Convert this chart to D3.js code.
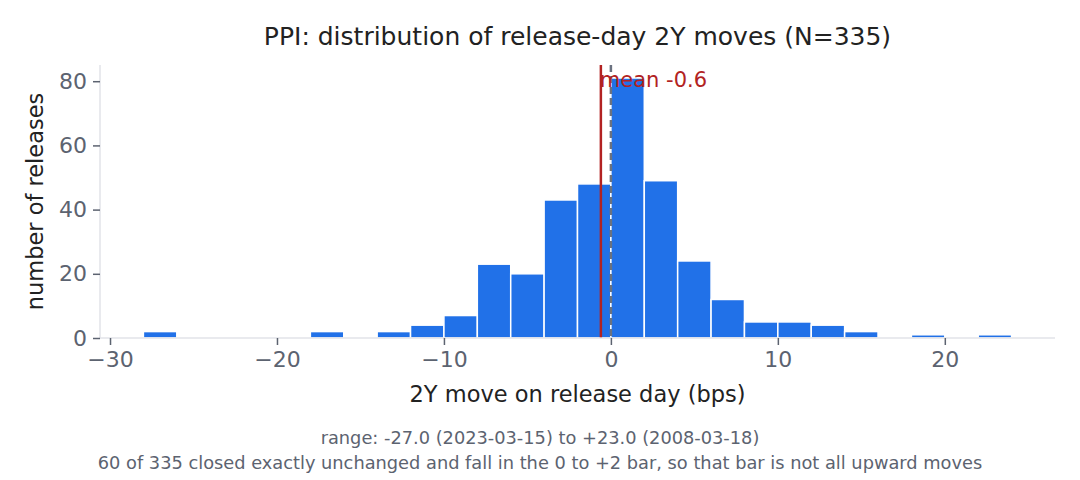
<!DOCTYPE html>
<html>
<head>
<meta charset="utf-8">
<script src="https://cdn.jsdelivr.net/npm/d3@7"></script>
<style>
  body { margin: 0; background: #fff; }
  text { font-family: "DejaVu Sans", sans-serif; }
</style>
</head>
<body>
<svg id="chart" width="1080" height="480"></svg>
<script>
// histogram bins (bps), width 2
var binStarts = [-28, -18, -14, -12, -10, -8, -6, -4, -2, 0, 2, 4, 6, 8, 10, 12, 14, 18, 22];
var binCounts = [2, 2, 2, 4, 7, 23, 20, 43, 48, 81, 49, 24, 12, 5, 5, 4, 2, 1, 1];
var binWidth = 2;
var meanMove = -0.6;
var xTicks = [-30, -20, -10, 0, 10, 20];
var yTicks = [0, 20, 40, 60, 80];

var bins = binStarts.map(function(s, i) {
  return { x0: s, x1: s + binWidth, n: binCounts[i] };
});

var svg = d3.select('#chart'),
  margin = { top: 65, right: 25, bottom: 142, left: 100 },
  width = +svg.attr('width'),
  height = +svg.attr('height');

var lo = -28, hi = 24, pad = (hi - lo) * 0.05;
var x = d3.scaleLinear()
  .domain([lo - pad, hi + pad])
  .range([margin.left, width - margin.right]);

var ymax = d3.max(binCounts) * 1.05;
var y = d3.scaleLinear()
  .domain([0, ymax])
  .range([height - margin.bottom, margin.top]);

// bars
svg.append('g')
  .selectAll('rect')
  .data(bins)
  .enter()
  .append('rect')
  .attr('x', function(d) { return x(d.x0); })
  .attr('width', function(d) { return x(d.x1) - x(d.x0); })
  .attr('y', function(d) { return y(d.n); })
  .attr('height', function(d) { return y(0) - y(d.n); })
  .attr('fill', '#2171e8')
  .attr('stroke', '#fff')
  .attr('stroke-width', 1.5);

// zero line and mean line
svg.append('line')
  .attr('x1', x(0)).attr('x2', x(0))
  .attr('y1', margin.top).attr('y2', y(0))
  .attr('stroke', '#6b7280')
  .attr('stroke-width', 2.5)
  .attr('stroke-dasharray', '7,4');

svg.append('line')
  .attr('x1', x(meanMove)).attr('x2', x(meanMove))
  .attr('y1', margin.top).attr('y2', y(0))
  .attr('stroke', '#b22222')
  .attr('stroke-width', 2.5);

svg.append('text')
  .attr('x', x(meanMove) - 1)
  .attr('y', margin.top + 22)
  .attr('fill', '#b22222')
  .attr('font-size', '21px')
  .text('mean ' + meanMove.toFixed(1));

// axes
var fmt = function(d) { return d < 0 ? '\u2212' + Math.abs(d) : String(d); };

var gx = svg.append('g')
  .attr('transform', 'translate(0,' + y(0) + ')')
  .call(d3.axisBottom(x).tickValues(xTicks).tickFormat(fmt).tickSize(7).tickPadding(6));

var gy = svg.append('g')
  .attr('transform', 'translate(' + margin.left + ',0)')
  .call(d3.axisLeft(y).tickValues(yTicks).tickSize(7).tickPadding(6));

[gx, gy].forEach(function(g) {
  g.select('.domain').attr('stroke', '#e2e3e8').attr('stroke-width', 1.5);
  g.selectAll('.tick line').attr('stroke', '#5c6370').attr('stroke-width', 1.5);
  g.selectAll('.tick text')
    .attr('fill', '#5c6370')
    .attr('font-size', '22px')
    .attr('font-family', 'DejaVu Sans, sans-serif');
});
gx.select('.domain').attr('d', 'M' + margin.left + ',0H' + (width - margin.right));
gy.select('.domain').attr('d', 'M0,' + y(0) + 'V' + margin.top);

// labels
svg.append('text')
  .attr('x', (margin.left + width - margin.right) / 2)
  .attr('y', 45)
  .attr('text-anchor', 'middle')
  .attr('fill', '#222')
  .attr('font-size', '25px')
  .text('PPI: distribution of release-day 2Y moves (N=335)');

svg.append('text')
  .attr('x', (margin.left + width - margin.right) / 2)
  .attr('y', 402)
  .attr('text-anchor', 'middle')
  .attr('fill', '#222')
  .attr('font-size', '22.5px')
  .text('2Y move on release day (bps)');

svg.append('text')
  .attr('transform', 'rotate(-90)')
  .attr('x', -(margin.top + y(0)) / 2)
  .attr('y', 43)
  .attr('text-anchor', 'middle')
  .attr('fill', '#222')
  .attr('font-size', '22.5px')
  .text('number of releases');

svg.append('text')
  .attr('x', 540).attr('y', 444)
  .attr('text-anchor', 'middle')
  .attr('fill', '#5c6370')
  .attr('font-size', '17.8px')
  .text('range: -27.0 (2023-03-15) to +23.0 (2008-03-18)');

svg.append('text')
  .attr('x', 540).attr('y', 469)
  .attr('text-anchor', 'middle')
  .attr('fill', '#5c6370')
  .attr('font-size', '17.8px')
  .text('60 of 335 closed exactly unchanged and fall in the 0 to +2 bar, so that bar is not all upward moves');
</script>
</body>
</html>
